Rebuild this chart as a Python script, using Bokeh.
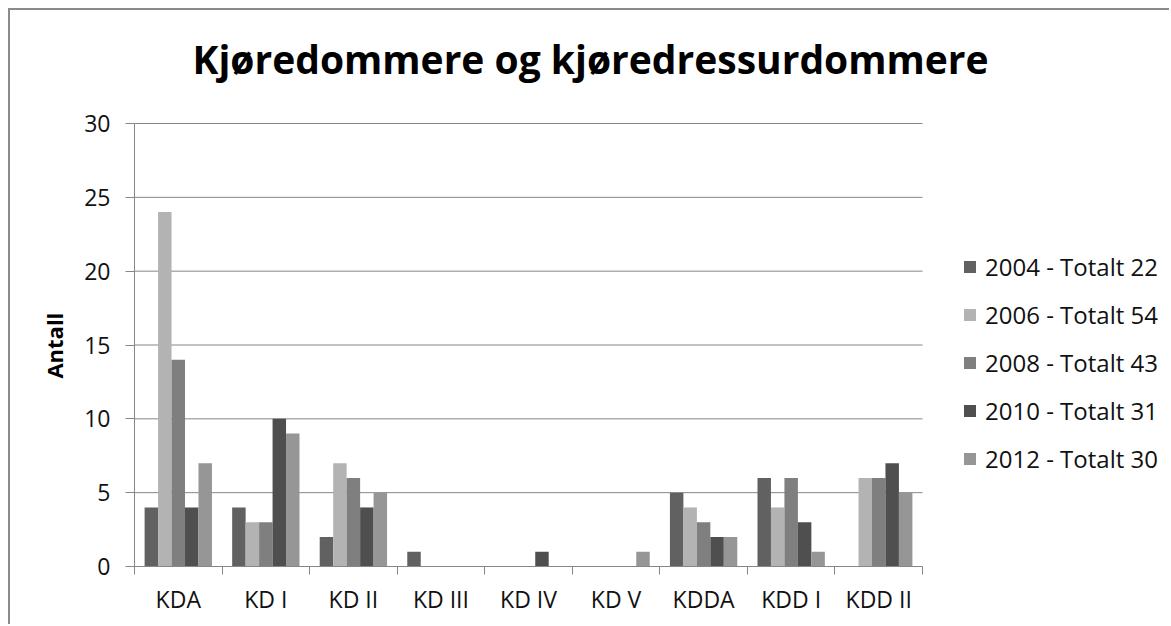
from bokeh.plotting import figure
from bokeh.models import Range1d, FixedTicker, Legend, LegendItem, ColumnDataSource, Label
from bokeh.embed import file_html
from bokeh.resources import INLINE

title_text = "Kjøredommere og kjøredressurdommere"
y_label = "Antall"
categories = ["KDA", "KD I", "KD II", "KD III", "KD IV", "KD V", "KDDA", "KDD I", "KDD II"]
series_names = ["2004 - Totalt 22", "2006 - Totalt 54", "2008 - Totalt 43",
                "2010 - Totalt 31", "2012 - Totalt 30"]
v2004 = [4, 4, 2, 1, 0, 0, 5, 6, 0]
v2006 = [24, 3, 7, 0, 0, 0, 4, 4, 6]
v2008 = [14, 3, 6, 0, 0, 0, 3, 6, 6]
v2010 = [4, 10, 4, 0, 1, 0, 2, 3, 7]
v2012 = [7, 9, 5, 0, 0, 1, 2, 1, 5]
series_values = [v2004, v2006, v2008, v2010, v2012]
colors = ["#616161", "#b3b3b3", "#7f7f7f", "#4f4f4f", "#969696"]
y_ticks = [0, 5, 10, 15, 20, 25, 30]

FONT = "Open Sans"
GRID = "#868686"

n = len(categories)
y_max = y_ticks[-1]
# the frame is larger than the plotting area so the title and legend fit inside it
x_end = n * 1037.0 / 788.0
y_end = y_max * 556.0 / 443.0

p = figure(width=1161, height=616, output_backend="svg", toolbar_location=None,
           x_range=Range1d(0, x_end), y_range=Range1d(0, y_end),
           min_border_left=124, min_border_right=0, min_border_top=0,
           min_border_bottom=60, outline_line_color=None, title=None)
p.margin = (8, 0, 0, 8)
p.styles = {"border-top": "2px solid #8a8a8a", "border-left": "2px solid #8a8a8a"}

title = Label(x=58, y=508, x_units="screen", y_units="screen", text=title_text,
              text_font=FONT, text_font_size="39px", text_font_style="bold",
              text_color="#000000", text_align="left", text_baseline="alphabetic")
p.add_layout(title)

# horizontal grid lines limited to the category area
grid_src = ColumnDataSource(dict(x0=[0] * len(y_ticks), x1=[n] * len(y_ticks), y=y_ticks))
p.segment(x0="x0", y0="y", x1="x1", y1="y", source=grid_src, line_color=GRID, line_width=1)

bw = 1.0 / 6.5
items = []
for k, (name, vals, c) in enumerate(zip(series_names, series_values, colors)):
    xs = [i + 0.5 + (k - 2) * bw for i in range(n)]
    src = ColumnDataSource(dict(x=xs, top=vals))
    r = p.vbar(x="x", top="top", width=bw, bottom=0, source=src,
               fill_color=c, line_color=None)
    items.append(LegendItem(label=name, renderers=[r]))

legend = Legend(items=items, location=(828, 91), orientation="vertical",
                label_text_font=FONT, label_text_font_size="24px",
                label_text_color="#111111", glyph_width=15, glyph_height=15,
                label_height=24, spacing=15, label_standoff=8,
                border_line_color=None, background_fill_alpha=0, margin=0,
                padding=10)
p.add_layout(legend)

# y axis
p.yaxis.bounds = (0, y_max)
p.yaxis.ticker = FixedTicker(ticks=y_ticks)
p.yaxis.axis_line_color = GRID
p.yaxis.major_tick_line_color = GRID
p.yaxis.major_tick_out = 9
p.yaxis.major_tick_in = 0
p.yaxis.minor_tick_line_color = None
p.yaxis.major_label_text_font = FONT
p.yaxis.major_label_text_font_size = "23px"
p.yaxis.major_label_text_color = "#111111"
p.yaxis.major_label_standoff = 15
# trailing no-break spaces move the rotated label down to the middle of the value axis
p.yaxis.axis_label = y_label + "\u00a0" * 20
p.yaxis.axis_label_text_font = FONT
p.yaxis.axis_label_text_font_size = "22px"
p.yaxis.axis_label_text_font_style = "bold"
p.yaxis.axis_label_text_color = "#000000"
p.yaxis.axis_label_standoff = 12

# x axis
centers = [i + 0.5 for i in range(n)]
p.xaxis.bounds = (0, n)
p.xaxis.ticker = FixedTicker(ticks=centers, minor_ticks=list(range(n + 1)))
p.xaxis.major_label_overrides = {c: lab for c, lab in zip(centers, categories)}
p.xaxis.axis_line_color = GRID
p.xaxis.major_tick_line_color = None
p.xaxis.major_tick_out = 0
p.xaxis.major_tick_in = 0
p.xaxis.minor_tick_line_color = GRID
p.xaxis.minor_tick_out = 8
p.xaxis.minor_tick_in = 0
p.xaxis.major_label_text_font = FONT
p.xaxis.major_label_text_font_size = "23px"
p.xaxis.major_label_text_color = "#111111"
p.xaxis.major_label_standoff = 8

p.xgrid.grid_line_color = None
p.ygrid.grid_line_color = None

open("out.html", "w").write(file_html(p, INLINE))
